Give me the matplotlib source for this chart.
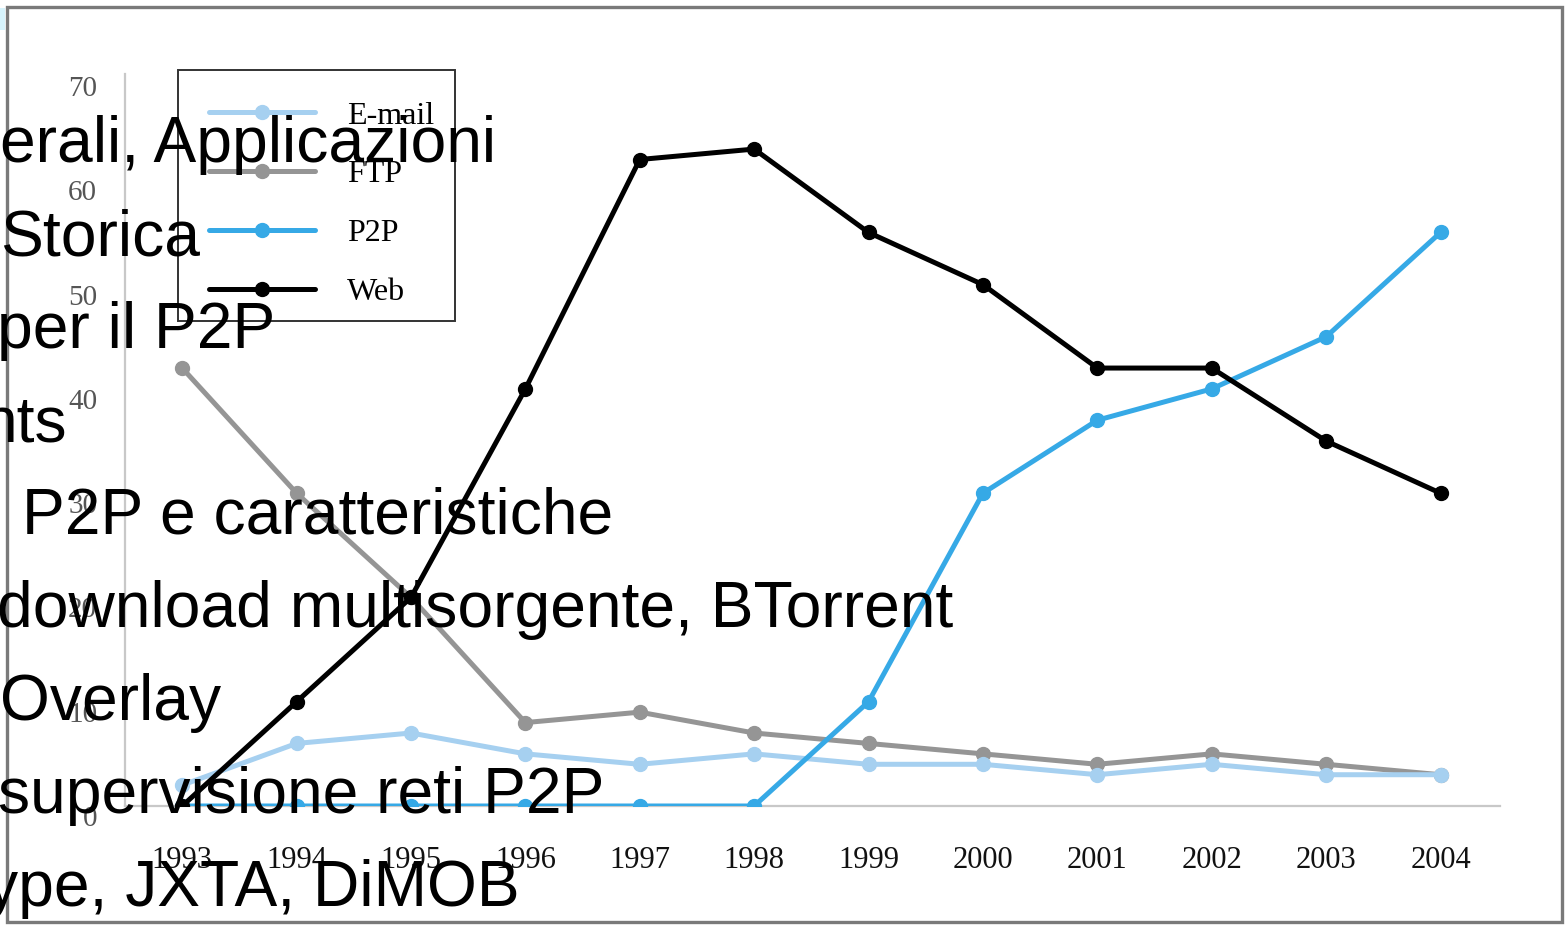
import matplotlib.pyplot as plt
from matplotlib.patches import Rectangle

# data
years = [1993, 1994, 1995, 1996, 1997, 1998, 1999, 2000, 2001, 2002, 2003, 2004]
email = [2, 6, 7, 5, 4, 5, 4, 4, 3, 4, 3, 3]
ftp = [42, 30, 20, 8, 9, 7, 6, 5, 4, 5, 4, 3]
p2p = [0, 0, 0, 0, 0, 0, 10, 30, 37, 40, 45, 55]
web = [0, 10, 20, 40, 62, 63, 55, 50, 42, 42, 35, 30]

series_names = ["E-mail", "FTP", "P2P", "Web"]
series_colors = ["#a6d0f0", "#959595", "#36a9e6", "#000000"]

# slide text lying over the picture
overlay_lines = [
    "erali, Applicazioni",
    "Storica",
    "per il P2P",
    "nts",
    "P2P e caratteristiche",
    "download multisorgente, BTorrent",
    "Overlay",
    "supervisione reti P2P",
    "ype, JXTA, DiMOB",
]
overlay_x = [0, 0, -3, -18, 22, -3, 0, -2, -14]

W, H = 1566, 925
fig = plt.figure(figsize=(W / 100, H / 100), dpi=100)

# outer frame of the pasted picture
fig.patches.append(Rectangle((7 / W, 3 / H), 1555 / W, 915 / H, transform=fig.transFigure,
                             fill=False, edgecolor="#7a7a7a", linewidth=2.4, zorder=0))
fig.patches.append(Rectangle((0, 895 / H), 5 / W, 22 / H, transform=fig.transFigure,
                             facecolor="#d6f3fc", edgecolor="none", zorder=0))

ax = fig.add_axes([125 / W, (H - 806) / H, 1375 / W, 732 / H])

all_series = [email, ftp, p2p, web]
for name, vals, col, z in zip(series_names, all_series, series_colors, [3, 2, 4, 5]):
    ax.plot(years, vals, color=col, linewidth=3.6, marker="o", markersize=10,
            label=name, zorder=z, solid_capstyle="round")

ax.set_xlim(1992.5, 2004.52)
ax.set_ylim(0, 70.2)
ax.set_xticks(years)
ax.set_xticklabels([str(y) for y in years])
ax.set_yticks(range(0, 71, 10))

for side in ["top", "right"]:
    ax.spines[side].set_visible(False)
for side in ["left", "bottom"]:
    ax.spines[side].set_color("#c8c8c8")
    ax.spines[side].set_linewidth(1.6)

ax.tick_params(axis="x", length=0, pad=29, labelsize=22, labelcolor="#111111")
ax.tick_params(axis="y", length=0, pad=20, labelsize=21, labelcolor="#555555")
for lab in ax.get_xticklabels() + ax.get_yticklabels():
    lab.set_family("Liberation Serif")
for lab in ax.get_yticklabels():
    lab.set_va("top")

# legend without its own frame; the box is drawn separately
leg = ax.legend(loc="upper left", bbox_to_anchor=(178 / W, 1 - 70 / H),
                bbox_transform=fig.transFigure, frameon=False,
                prop={"family": "Liberation Serif", "size": 23},
                handlelength=3.3, handletextpad=1.0, labelspacing=0.92,
                borderpad=0.98, borderaxespad=0)
fig.patches.append(Rectangle((178 / W, 1 - 321 / H), 277 / W, 251 / H,
                             transform=fig.transFigure, fill=False,
                             edgecolor="#333333", linewidth=1.4, zorder=6))

for i, (line, x0) in enumerate(zip(overlay_lines, overlay_x)):
    y_base = 162 + i * 93
    fig.text(x0 / W, 1 - y_base / H, line, ha="left", va="baseline",
             fontsize=46.2, family="Liberation Sans", color="black", zorder=20)

fig.savefig("out.png", dpi=100)
